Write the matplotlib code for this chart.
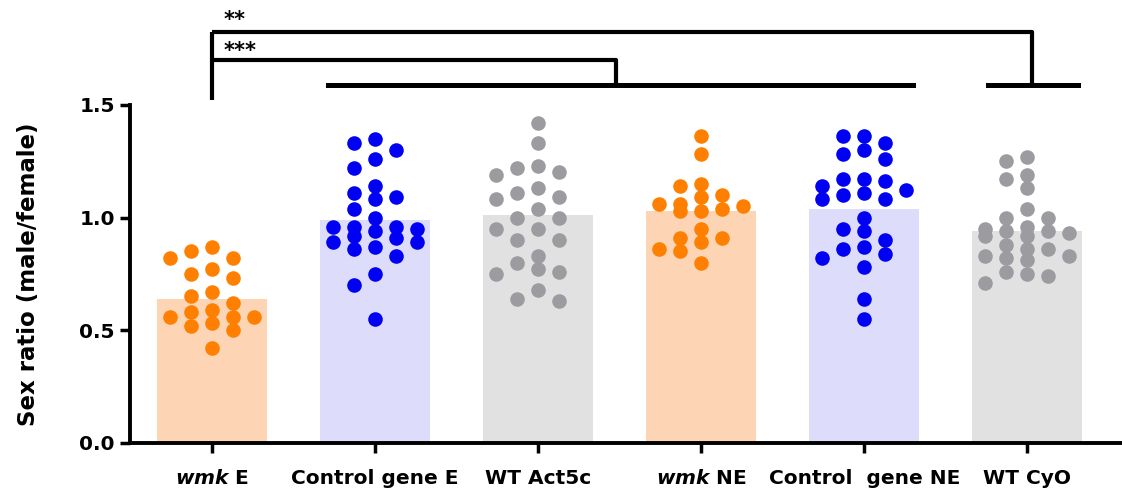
import numpy as np
import matplotlib
matplotlib.use("Agg")
import matplotlib.pyplot as plt

plt.rcParams['font.family'] = ['DejaVu Sans']
plt.rcParams['mathtext.fontset'] = 'custom'
plt.rcParams['mathtext.it'] = 'DejaVu Sans:italic:bold'
plt.rcParams['mathtext.rm'] = 'DejaVu Sans:bold'

# groups and values
labels = [r'$\mathit{wmk}$ E', 'Control gene E', 'WT Act5c',
          r'$\mathit{wmk}$ NE', 'Control  gene NE', 'WT CyO']
means = [0.64, 0.99, 1.01, 1.03, 1.04, 0.94]

wmk_E = [0.87, 0.85, 0.82, 0.82, 0.77, 0.75, 0.73, 0.67, 0.65, 0.62, 0.59,
         0.58, 0.56, 0.56, 0.56, 0.53, 0.52, 0.50, 0.42]
ctrl_E = [1.35, 1.33, 1.30, 1.26, 1.22, 1.14, 1.11, 1.09, 1.08, 1.04, 1.00,
          0.96, 0.96, 0.96, 0.95, 0.94, 0.92, 0.91, 0.89, 0.89, 0.87, 0.86,
          0.83, 0.75, 0.70, 0.55]
wt_act5c = [1.42, 1.33, 1.23, 1.22, 1.20, 1.19, 1.13, 1.11, 1.09, 1.08, 1.04,
            1.00, 1.00, 0.95, 0.95, 0.90, 0.90, 0.83, 0.80, 0.77, 0.76, 0.75,
            0.68, 0.64, 0.63]
wmk_NE = [1.36, 1.28, 1.15, 1.14, 1.10, 1.09, 1.06, 1.06, 1.05, 1.04, 1.03,
          1.03, 0.95, 0.91, 0.91, 0.89, 0.86, 0.85, 0.80]
ctrl_NE = [1.36, 1.36, 1.33, 1.30, 1.28, 1.26, 1.17, 1.17, 1.16, 1.14, 1.12,
           1.11, 1.10, 1.08, 1.08, 1.00, 0.95, 0.94, 0.90, 0.87, 0.86, 0.84,
           0.82, 0.78, 0.64, 0.55]
wt_cyo = [1.27, 1.25, 1.19, 1.17, 1.13, 1.04, 1.00, 1.00, 0.96, 0.95, 0.94,
          0.94, 0.93, 0.92, 0.92, 0.88, 0.86, 0.86, 0.83, 0.83, 0.82, 0.81,
          0.76, 0.75, 0.74, 0.71]
groups = [wmk_E, ctrl_E, wt_act5c, wmk_NE, ctrl_NE, wt_cyo]

bar_colors = ['#FDD4B4', '#DDDDFB', '#E1E1E1'] * 2
dot_colors = ['#FF8000', '#0000F5', '#9C9BA0'] * 2


def swarm(vals, step=0.129, dy=0.055):
    # greedy column swarm, at most 5 columns
    placed = []
    offs = np.zeros(len(vals))
    order = np.argsort(vals)[::-1]
    cand = [0, -1, 1, -2, 2]
    for i in order:
        v = vals[i]
        best, best_d = 0, -1
        for k in cand:
            d = min([abs(pv - v) for pk, pv in placed if pk == k] + [9])
            if d >= dy:
                best = k
                break
            if d > best_d:
                best, best_d = k, d
        placed.append((best, v))
        offs[i] = best * step
    return offs


fig = plt.figure(figsize=(11.22, 4.97), dpi=100)
ax = fig.add_axes([0.116, 0.109, 0.884, 0.680])

x = np.arange(len(groups))
ax.bar(x, means, width=0.675, color=bar_colors, zorder=1)
for i, vals in enumerate(groups):
    vals = np.array(vals)
    ax.scatter(i + swarm(vals), vals, s=110, color=dot_colors[i],
               linewidths=0, zorder=3)

ax.set_xlim(-0.5, 5.58)
ax.set_ylim(0, 1.5)
ax.set_yticks([0, 0.5, 1.0, 1.5])
ax.set_yticklabels(['0.0', '0.5', '1.0', '1.5'])
ax.set_xticks(x)
ax.set_xticklabels(labels)
for t in ax.get_xticklabels() + ax.get_yticklabels():
    t.set_fontweight('bold')
    t.set_fontsize(14.5)
ax.tick_params(axis='both', width=2.5, length=7, pad=4)
ax.tick_params(axis='x', pad=12)
for s in ['top', 'right']:
    ax.spines[s].set_visible(False)
for s in ['left', 'bottom']:
    ax.spines[s].set_linewidth(2.8)
ax.set_ylabel('Sex ratio (male/female)', fontsize=16.5, fontweight='bold')
ax.yaxis.set_label_coords(-0.091, 0.5)

# significance brackets
lw = 3
kw = dict(color='black', lw=lw, clip_on=False, solid_capstyle='butt')
ax.plot([0, 0], [1.52, 1.824], **kw)
ax.plot([0, 5.03, 5.03], [1.824, 1.824, 1.589], **kw)
ax.plot([0, 2.48, 2.48], [1.70, 1.70, 1.589], **kw)
ax.plot([0.71, 4.30], [1.589, 1.589], color='black', lw=3.6, clip_on=False)
ax.plot([4.76, 5.31], [1.589, 1.589], color='black', lw=3.6, clip_on=False)
ax.text(0.07, 1.851, '**', fontsize=15, fontweight='bold', ha='left',
        va='baseline')
ax.text(0.07, 1.713, '***', fontsize=15, fontweight='bold', ha='left',
        va='baseline')

fig.savefig('out.png', dpi=100)
